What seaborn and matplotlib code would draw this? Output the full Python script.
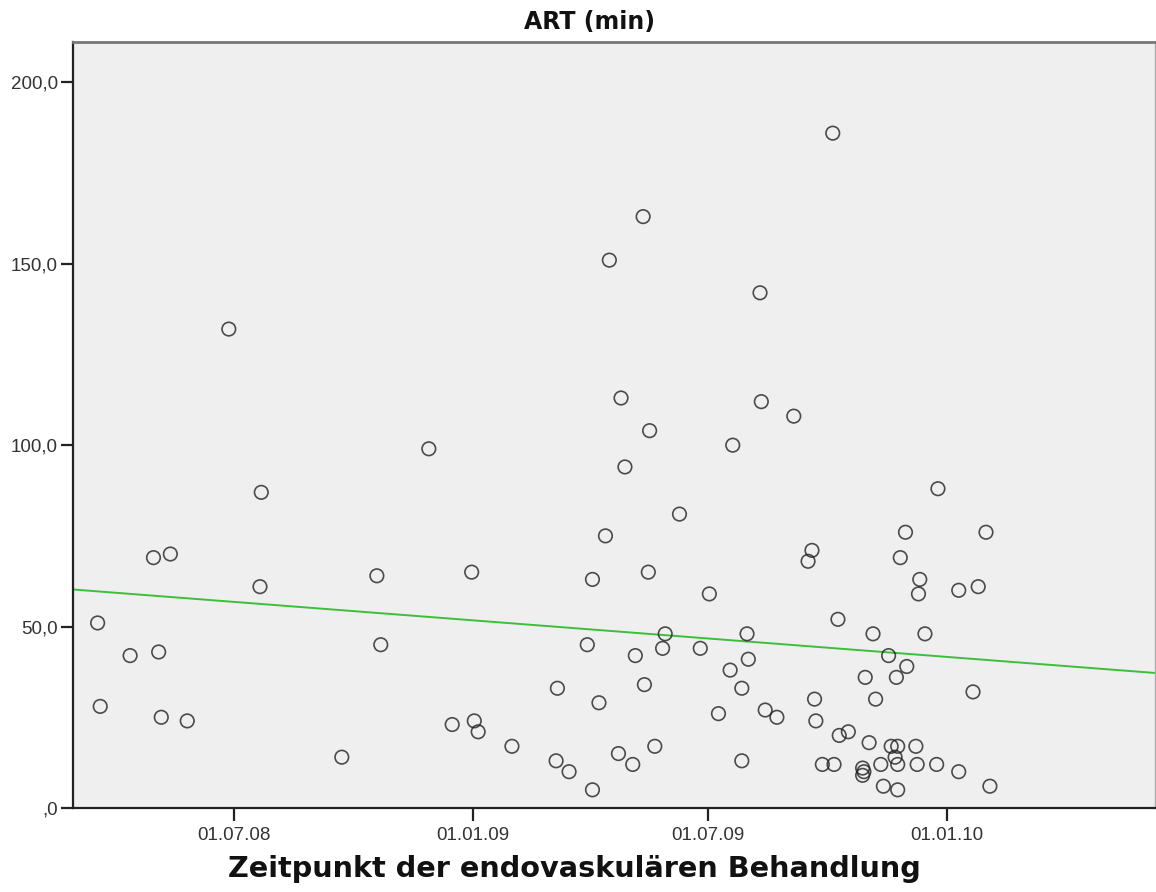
import matplotlib
matplotlib.use("Agg")
import matplotlib.pyplot as plt
import matplotlib.dates as mdates
import numpy as np
import pandas as pd
import seaborn as sns

# Treatment dates and arterial time (minutes)
treatment_dates = [
    "2008-03-18", "2008-03-20", "2008-04-12", "2008-04-30", "2008-05-04",
    "2008-05-06", "2008-05-13", "2008-05-26", "2008-06-27", "2008-07-21",
    "2008-07-22", "2008-09-22", "2008-10-19", "2008-10-22", "2008-11-28",
    "2008-12-16", "2008-12-31", "2009-01-02", "2009-01-05", "2009-01-31",
    "2009-03-06", "2009-03-07", "2009-03-16", "2009-03-30", "2009-04-03",
    "2009-04-03", "2009-04-08", "2009-04-13", "2009-04-16", "2009-04-23",
    "2009-04-25", "2009-04-28", "2009-05-04", "2009-05-06", "2009-05-12",
    "2009-05-13", "2009-05-16", "2009-05-17", "2009-05-21", "2009-05-27",
    "2009-05-29", "2009-06-09", "2009-06-25", "2009-07-02", "2009-07-09",
    "2009-07-18", "2009-07-20", "2009-07-27", "2009-07-27", "2009-07-31",
    "2009-08-01", "2009-08-10", "2009-08-11", "2009-08-14", "2009-08-23",
    "2009-09-05", "2009-09-16", "2009-09-19", "2009-09-21", "2009-09-22",
    "2009-09-27", "2009-10-05", "2009-10-06", "2009-10-09", "2009-10-10",
    "2009-10-17", "2009-10-28", "2009-10-29", "2009-10-28", "2009-10-30",
    "2009-11-02", "2009-11-05", "2009-11-07", "2009-11-11", "2009-11-13",
    "2009-11-17", "2009-11-19", "2009-11-22", "2009-11-23", "2009-11-24",
    "2009-11-24", "2009-11-24", "2009-11-26", "2009-11-30", "2009-12-01",
    "2009-12-08", "2009-12-09", "2009-12-10", "2009-12-11", "2009-12-15",
    "2009-12-24", "2009-12-25", "2010-01-10", "2010-01-10", "2010-01-21",
    "2010-01-25", "2010-01-31", "2010-02-03",
]
art_minutes = [
    51, 28, 42, 69, 43,
    25, 70, 24, 132, 61,
    87, 14, 64, 45, 99,
    23, 65, 24, 21, 17,
    13, 33, 10, 45, 63,
    5, 29, 75, 151, 15,
    113, 94, 12, 42, 163,
    34, 65, 104, 17, 44,
    48, 81, 44, 59, 26,
    38, 100, 33, 13, 48,
    41, 142, 112, 27, 25,
    108, 68, 71, 30, 24,
    12, 186, 12, 52, 20,
    21, 11, 10, 9, 36,
    18, 48, 30, 12, 6,
    42, 17, 14, 36, 17,
    12, 5, 69, 76, 39,
    17, 12, 59, 63, 48,
    12, 88, 60, 10, 32,
    61, 76, 6,
]

x_tick_dates = ["2008-07-01", "2009-01-01", "2009-07-01", "2010-01-01"]
x_tick_labels = ["01.07.08", "01.01.09", "01.07.09", "01.01.10"]
y_ticks = [0, 50, 100, 150, 200]
y_tick_labels = [",0", "50,0", "100,0", "150,0", "200,0"]

title_text = "ART (min)"
x_label = "Zeitpunkt der endovaskulären Behandlung"

df = pd.DataFrame({
    "datum": mdates.date2num(pd.to_datetime(treatment_dates)),
    "art": art_minutes,
})

sns.set_theme(style="white")
plt.rcParams["font.family"] = ["Liberation Sans", "DejaVu Sans"]

fig = plt.figure(figsize=(11.56, 8.92), dpi=100)
ax = fig.add_axes([0.0631, 0.0942, 0.9359, 0.8582])
ax.set_facecolor("#efefef")

ax.set_xlim(mdates.date2num(pd.Timestamp("2008-02-28")),
            mdates.date2num(pd.Timestamp("2010-06-10")))
ax.set_ylim(0, 211)

# Scatter of all cases plus the linear fit across the full date range
sns.regplot(
    data=df, x="datum", y="art", ax=ax, ci=None, truncate=False,
    scatter_kws=dict(s=95, facecolors="none", edgecolors="#222222",
                     linewidths=1.2, zorder=3),
    line_kws=dict(color="#3cbf3c", linewidth=1.4, zorder=2),
)

ax.set_xticks(mdates.date2num(pd.to_datetime(x_tick_dates)))
ax.set_xticklabels(x_tick_labels)
ax.set_yticks(y_ticks)
ax.set_yticklabels(y_tick_labels)
ax.tick_params(axis="both", direction="out", length=9, width=1.6,
               color="#222222", labelsize=13.5, labelcolor="#333333", pad=2,
               bottom=True, left=True)
ax.tick_params(axis="x", pad=5)
ax.set_xlabel("")
ax.set_ylabel("")

for side in ("left", "bottom"):
    ax.spines[side].set_color("#222222")
    ax.spines[side].set_linewidth(1.6)
ax.spines["top"].set_color("#777777")
ax.spines["top"].set_linewidth(2.0)
ax.spines["right"].set_color("#aaaaaa")
ax.spines["right"].set_linewidth(1.0)

fig.text(0.510, 0.975, title_text, ha="center", va="center",
         fontsize=17, fontweight="bold", color="#111111",
         family="DejaVu Sans")
fig.text(0.497, 0.026, x_label, ha="center", va="center",
         fontsize=20.7, fontweight="bold", color="#111111",
         family="DejaVu Sans")

fig.savefig("out.png", dpi=100, facecolor="white")
